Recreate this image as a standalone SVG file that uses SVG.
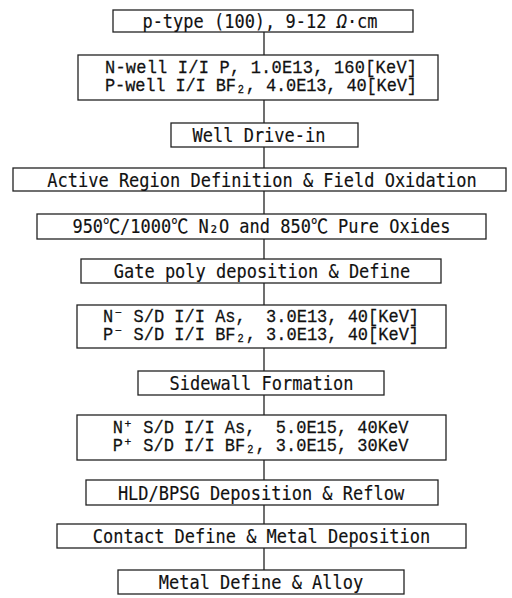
<svg xmlns="http://www.w3.org/2000/svg" width="512" height="598" viewBox="0 0 512 598">
<style>
.box{fill:#fff;stroke:#222;stroke-width:1.3}
.con{stroke:#222;stroke-width:1.3;fill:none}
.g{font-family:"DejaVu Sans Mono","Liberation Mono",monospace;font-size:17px;fill:#111;stroke:#111;stroke-width:0.15;text-anchor:middle}
.m{font-family:"Liberation Mono","DejaVu Sans Mono",monospace;font-size:17px;fill:#111;stroke:#111;stroke-width:0.25;text-anchor:middle}
.c{font-family:"Noto Sans CJK JP","DejaVu Sans",sans-serif}
</style>
<rect width="512" height="598" fill="#fff"/>
<g id="connectors">
<path class="con" d="M264 32V55M264 100V123M264 147V168M264 191V214M264 239V259M264 283V305M264 348V371M264 395V415M264 460V480M264 505V524M264 548V570"/>
</g>
<g id="n1"><rect class="box" x="113" y="10" width="300" height="22"/>
<text class="g" transform="translate(260 28) scale(1 1.15)">p-type (100), 9-12 <tspan font-style="italic">Ω</tspan>·cm</text></g>
<g id="n2"><rect class="box" x="78" y="55" width="360" height="45"/>
<text class="m" transform="translate(261 73) scale(1 1.1)"><tspan x="0" y="0" textLength="312" lengthAdjust="spacing">N-well I/I P, 1.0E13, 160[KeV]</tspan><tspan x="0" y="16.4" textLength="312" lengthAdjust="spacing">P-well I/I BF₂, 4.0E13, 40[KeV]</tspan></text></g>
<g id="n3"><rect class="box" x="171" y="123" width="187" height="24"/>
<text class="g" transform="translate(259 142) scale(1 1.15)">Well Drive-in</text></g>
<g id="n4"><rect class="box" x="13" y="168" width="493" height="23"/>
<text class="g" transform="translate(262 187) scale(1 1.15)">Active Region Definition &amp; Field Oxidation</text></g>
<g id="n5"><rect class="box" x="37" y="214" width="449" height="25"/>
<text class="g" transform="translate(261.5 233) scale(1 1.15)">950<tspan class="c">℃</tspan>/1000<tspan class="c">℃</tspan> N₂O and 850<tspan class="c">℃</tspan> Pure Oxides</text></g>
<g id="n6"><rect class="box" x="81" y="259" width="360" height="24"/>
<text class="g" transform="translate(262 278) scale(1 1.15)">Gate poly deposition &amp; Define</text></g>
<g id="n7"><rect class="box" x="77" y="305" width="369" height="43"/>
<text class="m" xml:space="preserve" transform="translate(261 322) scale(1 1.1)"><tspan x="0" y="0">N⁻ S/D I/I As,  3.0E13, 40[KeV]</tspan><tspan x="0" y="16.4">P⁻ S/D I/I BF₂, 3.0E13, 40[KeV]</tspan></text></g>
<g id="n8"><rect class="box" x="138" y="371" width="246" height="24"/>
<text class="g" transform="translate(261.5 390) scale(1 1.15)">Sidewall Formation</text></g>
<g id="n9"><rect class="box" x="77" y="415" width="369" height="45"/>
<text class="m" xml:space="preserve" transform="translate(260.5 433) scale(1 1.1)"><tspan x="0" y="0">N⁺ S/D I/I As,  5.0E15, 40KeV</tspan><tspan x="0" y="16.4">P⁺ S/D I/I BF₂, 3.0E15, 30KeV</tspan></text></g>
<g id="n10"><rect class="box" x="86" y="480" width="352" height="25"/>
<text class="g" transform="translate(261 500) scale(1 1.15)">HLD/BPSG Deposition &amp; Reflow</text></g>
<g id="n11"><rect class="box" x="57" y="524" width="409" height="24"/>
<text class="g" transform="translate(261.5 543) scale(1 1.15)">Contact Define &amp; Metal Deposition</text></g>
<g id="n12"><rect class="box" x="118" y="570" width="286" height="24"/>
<text class="g" transform="translate(261 589) scale(1 1.15)">Metal Define &amp; Alloy</text></g>
</svg>
